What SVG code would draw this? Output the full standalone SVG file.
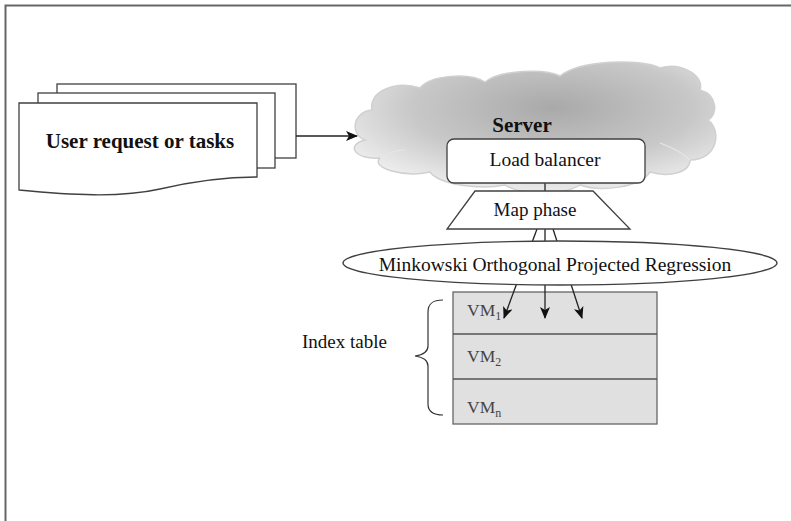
<svg xmlns="http://www.w3.org/2000/svg" width="791" height="521" viewBox="0 0 791 521">
<style>
  text { font-family: "Liberation Serif", "Times New Roman", serif; fill: #111; }
  .shape { fill: #ffffff; stroke: #404040; stroke-width: 1.3; }
  .conn { fill: none; stroke: #222; stroke-width: 1.3; }
  .vm { fill: #444; font-size: 17.5px; }
  .sub { font-size: 12px; fill: #444; }
</style>
<defs>
  <marker id="arrow" viewBox="0 0 12 10" refX="11" refY="5" markerWidth="12" markerHeight="10" markerUnits="userSpaceOnUse" orient="auto">
    <path d="M0,0 L12,5 L0,10 L3,5 Z" fill="#111"/>
  </marker>
  <radialGradient id="cloudGrad" cx="0.55" cy="0.35" r="0.65">
    <stop offset="0" stop-color="#a9a9a9"/>
    <stop offset="0.6" stop-color="#c8c8c8"/>
    <stop offset="1" stop-color="#ececec"/>
  </radialGradient>
</defs>

<path id="frame" d="M5.5,521 V5.5 H791" fill="none" stroke="#666" stroke-width="2"/>

<g id="server-cloud">
  <path d="M365,140 C350,135 352,112 372,110 C368,92 395,80 420,88 C430,75 470,72 485,82 C500,70 545,68 560,76 C580,60 640,58 660,68 C680,62 705,75 700,90 C718,95 718,115 708,120 C722,130 718,160 690,160 C690,172 670,178 650,172 C640,188 600,192 580,185 C565,195 520,195 505,185 C480,190 440,185 430,172 C405,178 370,168 380,158 C355,160 345,145 365,140 Z" fill="url(#cloudGrad)" stroke="#d0d0d0" stroke-width="1.5"/>
  <path d="M690,160 C680,150 665,145 660,143" fill="none" stroke="#e6e6e6" stroke-width="1.2"/>
  <path d="M380,158 C390,152 398,150 405,150" fill="none" stroke="#e6e6e6" stroke-width="1.2"/>
  <text x="522" y="132" font-size="21" font-weight="bold" text-anchor="middle">Server</text>
</g>

<g id="user-requests">
  <rect class="shape" x="57" y="84" width="239" height="74"/>
  <rect class="shape" x="38" y="93" width="237" height="75"/>
  <path class="shape" d="M19,103 H257 V177 C220,177 190,182 160,189 C120,198 70,195 19,190 Z"/>
  <text x="140" y="148" font-size="21" font-weight="bold" text-anchor="middle">User request or tasks</text>
</g>

<g id="index-table">
  <rect x="453" y="292" width="204" height="132" fill="#e0e0e0" stroke="#666" stroke-width="1.3"/>
  <line x1="453" y1="334" x2="657" y2="334" stroke="#555" stroke-width="1.3"/>
  <line x1="453" y1="379" x2="657" y2="379" stroke="#555" stroke-width="1.3"/>
  <text class="vm" x="467" y="316">VM<tspan class="sub" dy="4">1</tspan></text>
  <text class="vm" x="467" y="362">VM<tspan class="sub" dy="4">2</tspan></text>
  <text class="vm" x="467" y="413">VM<tspan class="sub" dy="4">n</tspan></text>
</g>

<g id="index-label">
  <path d="M443,300 C432,300 428,304 428,312 V346 C428,352 422,355 415,356 C422,357 428,360 428,366 V404 C428,411 432,415 443,415" fill="none" stroke="#333" stroke-width="1.2"/>
  <text x="302" y="348" font-size="19">Index table</text>
</g>

<g id="connectors">
  <line class="conn" x1="296" y1="136" x2="357" y2="136" marker-end="url(#arrow)"/>
  <line class="conn" x1="545" y1="183" x2="545" y2="191"/>
  <line class="conn" x1="537" y1="229" x2="504" y2="318" marker-end="url(#arrow)"/>
  <line class="conn" x1="545" y1="229" x2="545" y2="318" marker-end="url(#arrow)"/>
  <line class="conn" x1="553" y1="229" x2="582" y2="318" marker-end="url(#arrow)"/>
</g>

<g id="load-balancer">
  <rect class="shape" x="447" y="139" width="198" height="44" rx="7"/>
  <text x="545" y="166" font-size="19.5" text-anchor="middle">Load balancer</text>
</g>

<g id="map-phase">
  <polygon class="shape" points="475,191 593,191 630,229 447,229"/>
  <text x="535" y="216" font-size="19" text-anchor="middle">Map phase</text>
</g>

<g id="mopr">
  <ellipse class="shape" cx="560" cy="263" rx="217" ry="22"/>
  <text x="555" y="271" font-size="19.5" text-anchor="middle">Minkowski Orthogonal Projected Regression</text>
</g>
</svg>
